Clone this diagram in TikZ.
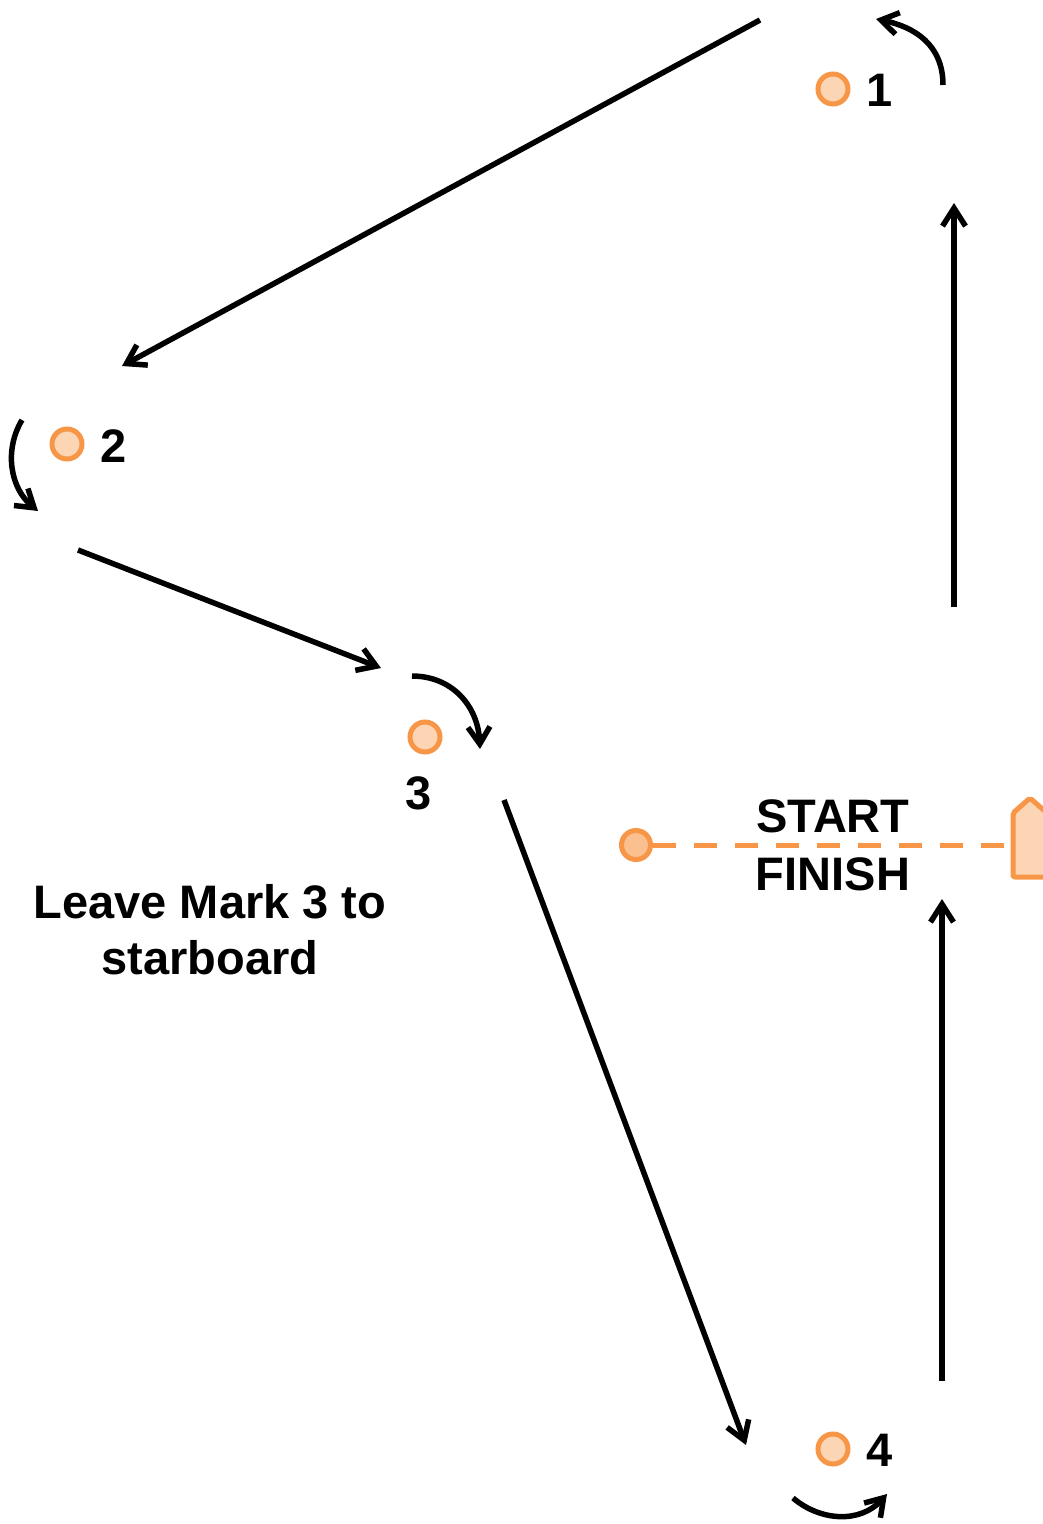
\documentclass[tikz,border=0pt]{standalone}
\usepackage{fontspec}
\setmainfont{Liberation Sans}
\usetikzlibrary{arrows.meta}
\definecolor{mkorange}{HTML}{F79646}
\definecolor{mkfill}{HTML}{FCD5B5}
\definecolor{pinfill}{HTML}{FAC090}
\begin{document}
\begin{tikzpicture}[x=1pt,y=-1pt,
  course/.style={line width=5.5pt,-{Straight Barb[length=18pt,width=23pt,line width=5.5pt]}},
  roundarrow/.style={line width=5.5pt,-{Straight Barb[length=17pt,width=22pt,line width=5.5pt]}},
  markbuoy/.style={circle,draw=mkorange,fill=mkfill,line width=5pt,minimum size=30pt,inner sep=0pt},
  pinbuoy/.style={circle,draw=mkorange,fill=pinfill,line width=5pt,minimum size=29pt,inner sep=0pt},
  lbl/.style={font=\fontsize{47}{56}\selectfont\bfseries,inner sep=0pt,align=center},
  startline/.style={draw=mkorange,line width=5pt,dash pattern=on 23pt off 18pt},
  ]
\useasboundingbox (0,0) rectangle (1043,1524);
\clip (0,0) rectangle (1043,1524);

% marks
\node[markbuoy] (m1) at (833,89) {};
\node[markbuoy] (m2) at (67,444) {};
\node[markbuoy] (m3) at (425,737) {};
\node[markbuoy] (m4) at (833,1449) {};
\node[lbl] (l1) at (880,90) {1};
\node[lbl] (l2) at (114,446) {2};
\node[lbl] (l3) at (419,793) {3};
\node[lbl] (l4) at (880,1450) {4};

% start / finish line
\node[pinbuoy] (pin) at (636,845) {};
\coordinate (boat) at (1013,845);
\draw[startline] (pin.east) -- (boat);
\draw[draw=mkorange,fill=mkfill,line width=5pt,line join=round,rounded corners=2pt]
  (1013,877) -- (1013,813) -- (1030,798) -- (1047,813) -- (1047,877) -- cycle;
\node[lbl] (start) at (833,816) {START};
\node[lbl] (finish) at (833,874) {FINISH};
\node[lbl] (note) at (210,930) {Leave Mark 3 to\\starboard};

% course legs
\coordinate (s1) at (760,20);   \coordinate (e1) at (122,366);
\coordinate (s2) at (78,550);   \coordinate (e2) at (381,668);
\coordinate (s3) at (504,800);  \coordinate (e3) at (746,1445);
\coordinate (s4) at (942,1381); \coordinate (e4) at (942,899);
\coordinate (s5) at (954,607);  \coordinate (e5) at (954,203);
\draw[course] (s1) -- (e1);
\draw[course] (s2) -- (e2);
\draw[course] (s3) -- (e3);
\draw[course] (s4) -- (e4);
\draw[course] (s5) -- (e5);

% roundings
\coordinate (r1s) at (943,85);  \coordinate (r1e) at (876,19);
\coordinate (r2s) at (22,420);  \coordinate (r2e) at (38,511);
\coordinate (r3s) at (412,676); \coordinate (r3e) at (480,749);
\coordinate (r4s) at (793,1498);\coordinate (r4e) at (887,1494);
\draw[roundarrow] (r1s) .. controls (943,45) and (915,27) .. (r1e);
\draw[roundarrow] (r2s) .. controls (4,450) and (10,488) .. (r2e);
\draw[roundarrow] (r3s) .. controls (452,676) and (478,706) .. (r3e);
\draw[roundarrow] (r4s) .. controls (820,1521) and (860,1524) .. (r4e);
\end{tikzpicture}
\end{document}
